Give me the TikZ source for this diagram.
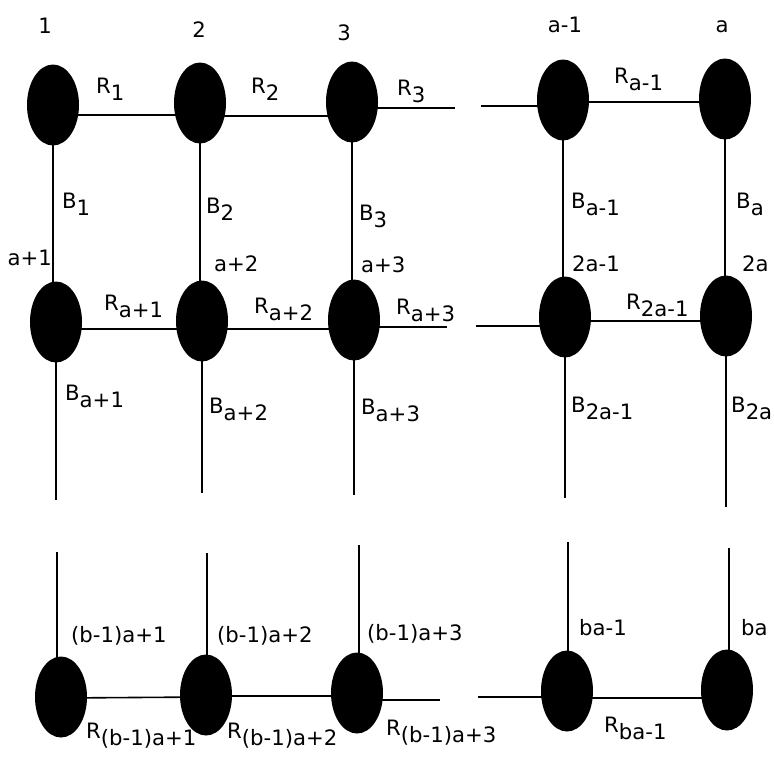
\documentclass[tikz,border=0pt]{standalone}
\usepackage{fontspec}
\setmainfont{DejaVu Sans}
\usetikzlibrary{shapes.geometric,backgrounds}
\newcommand{\sbx}[1]{\raisebox{-7.5pt}{#1}}
\begin{document}
\begin{tikzpicture}[x=1pt,y=-1pt,
  vtx/.style={ellipse,fill=black,draw=none,minimum width=52pt,minimum height=81pt,inner sep=0pt},
  lbl/.style={anchor=base west,inner sep=0pt,font=\fontsize{21.2}{25}\selectfont},
  lble/.style={anchor=base east,inner sep=0pt,font=\fontsize{21.2}{25}\selectfont},
  toplbl/.style={anchor=base,inner sep=0pt,font=\fontsize{21.2}{25}\selectfont},
  hl/.style={line width=1.6pt},
  vl/.style={line width=1.1pt}]
\useasboundingbox (0,0) rectangle (774,764);

% vertices
\node[vtx] (n1) at (53,105) {};
\node[vtx] (n2) at (200,103) {};
\node[vtx] (n3) at (352,102) {};
\node[vtx] (nam1) at (563,100) {};
\node[vtx] (na) at (725,99) {};
\node[vtx] (m1) at (56,322) {};
\node[vtx] (m2) at (202,321) {};
\node[vtx] (m3) at (354,320) {};
\node[vtx] (m2am1) at (565,317) {};
\node[vtx] (m2a) at (726,316) {};
\node[vtx] (k1) at (61,697) {};
\node[vtx] (k2) at (206,695) {};
\node[vtx] (k3) at (357,693) {};
\node[vtx] (kbam1) at (567,691) {};
\node[vtx] (kba) at (727,690) {};

% free ends
\coordinate (s1) at (455,108);
\coordinate (s2) at (481,106);
\coordinate (s3) at (447,327);
\coordinate (s4) at (476,326);
\coordinate (s5) at (440,700);
\coordinate (s6) at (478,697);
\coordinate (e1) at (56,500);
\coordinate (e2) at (202,493);
\coordinate (e3) at (354,495);
\coordinate (e4) at (566,498);
\coordinate (e5) at (728,507);
\coordinate (t1) at (57,552);
\coordinate (t2) at (207,553);
\coordinate (t3) at (359,545);
\coordinate (t4) at (568,542);
\coordinate (t5) at (729,548);

\begin{scope}[on background layer]
% horizontal edges
\draw[hl] ([yshift=-10pt]n1.center) -- ([yshift=-12pt]n2.center);
\draw[hl] ([yshift=-13pt]n2.center) -- ([yshift=-14pt]n3.center);
\draw[hl] ([yshift=-6pt]n3.center) -- (s1);
\draw[hl] (s2) -- ([yshift=-6pt]nam1.center);
\draw[hl] ([yshift=-2pt]nam1.center) -- ([yshift=-3pt]na.center);
\draw[hl] ([yshift=-7pt]m1.center) -- ([yshift=-8pt]m2.center);
\draw[hl] ([yshift=-8pt]m2.center) -- ([yshift=-9pt]m3.center);
\draw[hl] ([yshift=-7pt]m3.center) -- (s3);
\draw[hl] (s4) -- ([yshift=-9pt]m2am1.center);
\draw[hl] ([yshift=-4pt]m2am1.center) -- ([yshift=-5pt]m2a.center);
\draw[hl] ([yshift=-1pt]k1.center) -- ([yshift=-2pt]k2.center);
\draw[hl] ([yshift=-1pt]k2.center) -- ([yshift=-3pt]k3.center);
\draw[hl] ([yshift=-7pt]k3.center) -- (s5);
\draw[hl] (s6) -- ([yshift=-6pt]kbam1.center);
\draw[hl] ([yshift=-7pt]kbam1.center) -- ([yshift=-8pt]kba.center);
% vertical edges
\draw[vl] (n1.center) -- (n1 |- m1);
\draw[vl] (n2.center) -- (n2 |- m2);
\draw[vl] (n3.center) -- (n3 |- m3);
\draw[vl] (nam1.center) -- (nam1 |- m2am1);
\draw[vl] (na.center) -- (na |- m2a);
\draw[vl] (m1.center) -- (m1 |- e1);
\draw[vl] (m2.center) -- (m2 |- e2);
\draw[vl] (m3.center) -- (m3 |- e3);
\draw[vl] (m2am1.center) -- (m2am1 |- e4);
\draw[vl] (m2a.center) -- (m2a |- e5);
\draw[vl] (t1) -- (t1 |- k1);
\draw[vl] (t2) -- (t2 |- k2);
\draw[vl] (t3) -- (t3 |- k3);
\draw[vl] (t4) -- (t4 |- kbam1);
\draw[vl] (t5) -- (t5 |- kba);
\end{scope}

% vertex numbers
\node[toplbl] (l1) at (45,33) {1};
\node[toplbl] (l2) at (199,37) {2};
\node[toplbl] (l3) at (344,40) {3};
\node[toplbl] (lam1) at (565,32) {a-1};
\node[toplbl] (la) at (722,32) {a};
\node[lble] (lap1) at (52,265) {a+1};
\node[lbl] (lap2) at (214,271) {a+2};
\node[lbl] (lap3) at (361,272) {a+3};
\node[lbl] (l2am1) at (572,271) {2a-1};
\node[lbl] (l2a) at (742,271) {2a};
\node[lbl] (lk1) at (71,642) {(b-1)a+1};
\node[lbl] (lk2) at (217,642) {(b-1)a+2};
\node[lbl] (lk3) at (367,640) {(b-1)a+3};
\node[lbl] (lbam1) at (579,635) {ba-1};
\node[lbl] (lba) at (741,635) {ba};

% R labels
\node[lbl] (r1) at (96,93) {R\sbx{1}};
\node[lbl] (r2) at (251,93) {R\sbx{2}};
\node[lbl] (r3) at (397,95) {R\sbx{3}};
\node[lbl] (ram1) at (614,83) {R\sbx{a-1}};
\node[lbl] (rap1) at (104,310) {R\sbx{a+1}};
\node[lbl] (rap2) at (254,313) {R\sbx{a+2}};
\node[lbl] (rap3) at (396,314) {R\sbx{a+3}};
\node[lbl] (r2am1) at (626,309) {R\sbx{2a-1}};
\node[lbl] (rk1) at (86,738) {R\sbx{(b-1)a+1}};
\node[lbl] (rk2) at (227,738) {R\sbx{(b-1)a+2}};
\node[lbl] (rk3) at (386,735) {R\sbx{(b-1)a+3}};
\node[lbl] (rbam1) at (604,732) {R\sbx{ba-1}};

% B labels
\node[lbl] (b1) at (62,208) {B\sbx{1}};
\node[lbl] (b2) at (206,213) {B\sbx{2}};
\node[lbl] (b3) at (359,220) {B\sbx{3}};
\node[lbl] (bam1) at (571,208) {B\sbx{a-1}};
\node[lbl] (ba) at (736,208) {B\sbx{a}};
\node[lbl] (bap1) at (65,400) {B\sbx{a+1}};
\node[lbl] (bap2) at (209,413) {B\sbx{a+2}};
\node[lbl] (bap3) at (361,414) {B\sbx{a+3}};
\node[lbl] (b2am1) at (571,412) {B\sbx{2a-1}};
\node[lbl] (b2a) at (731,412) {B\sbx{2a}};
\end{tikzpicture}
\end{document}
